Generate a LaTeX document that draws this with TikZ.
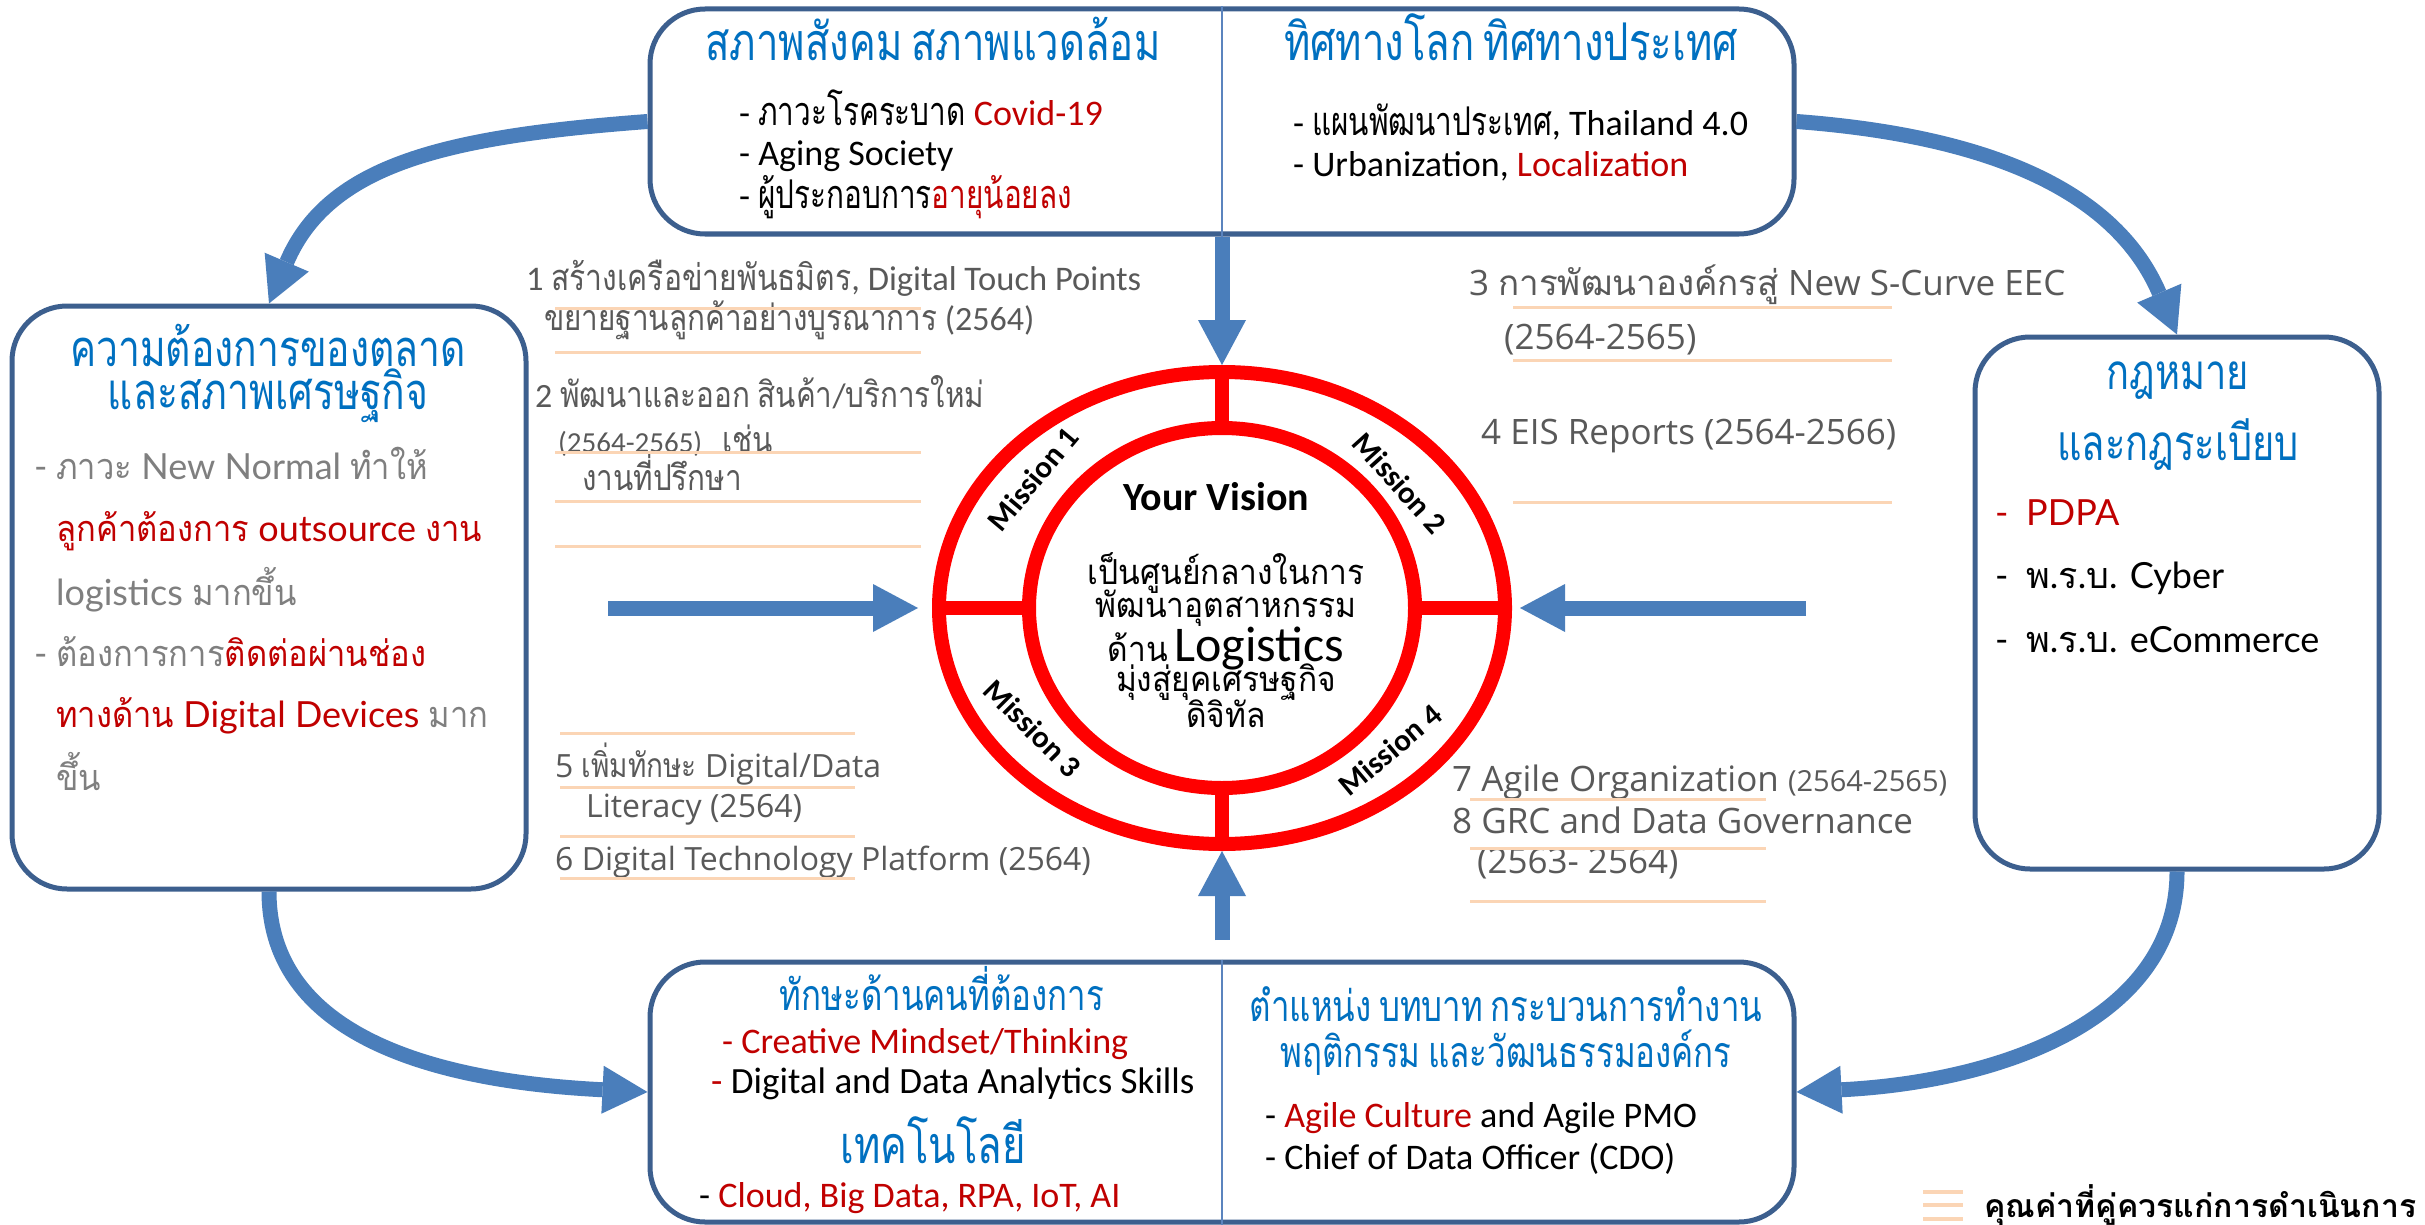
\documentclass[tikz,border=0pt]{standalone}
\usepackage{fontspec}
\usetikzlibrary{arrows.meta,shapes.geometric}
\setmainfont{Carlito}
\newfontfamily\latoF{Lato}
\newfontfamily\opensF{Open Sans}
\newfontfamily\thaiA[Script=Thai]{Loma}
\newfontfamily\thaiH[Script=Thai,Scale=1.3,FakeStretch=0.77]{Loma}
\newfontfamily\thaiN[Script=Thai,Scale=1.1,FakeStretch=0.75]{Loma}
\newfontfamily\thaiM[Script=Thai,Scale=1.05,FakeStretch=0.83]{Loma}
\newfontfamily\thaiL[Script=Thai,FakeStretch=0.91]{Loma}
\newfontfamily\thaiV[Script=Thai,Scale=1.15,FakeStretch=0.92]{Loma}
\newcommand\curthai{\thaiA}
\XeTeXinterchartokenstate=1
\newXeTeXintercharclass\thaiclass
\newcount\thc
\thc="0E00
\loop
  \XeTeXcharclass\thc=\thaiclass
  \ifnum\thc<"0E7F \advance\thc by 1
\repeat
\XeTeXinterchartoks 0 \thaiclass = {\begingroup\curthai}
\XeTeXinterchartoks 4095 \thaiclass = {\begingroup\curthai}
\XeTeXinterchartoks \thaiclass 0 = {\endgroup}
\XeTeXinterchartoks \thaiclass 4095 = {\endgroup}

\definecolor{headc}{HTML}{0070C0}
\definecolor{redc}{HTML}{C00000}
\definecolor{grayA}{HTML}{595959}
\definecolor{grayB}{HTML}{7F7F7F}
\definecolor{boxc}{HTML}{3C5F8E}
\definecolor{divc}{HTML}{5B84BE}
\definecolor{arrc}{HTML}{4A7EBB}
\definecolor{ringc}{HTML}{FF0000}
\definecolor{linec}{HTML}{FBD5B5}
\newcommand\redt[1]{\textcolor{redc}{#1}}

\tikzset{
  bx/.style={draw=boxc, line width=5pt, rounded corners=55pt, fill=white, inner sep=0pt},
  divline/.style={draw=divc, line width=2pt},
  ring/.style={ellipse, draw=ringc, line width=14pt, inner sep=0pt},
  ringbar/.style={draw=ringc, line width=14pt},
  arr/.style={draw=arrc, line width=15pt, -{Triangle[width=48pt,length=45pt,line width=0pt]}},
  oline/.style={draw=linec, line width=3pt},
  tw/.style={inner sep=0pt, anchor=base west},
  tc/.style={inner sep=0pt, anchor=base},
  toph/.style={tc, text=headc, font=\def\curthai{\thaiH}\fontsize{40}{40}\selectfont},
  topb/.style={tw, text=black, font=\def\curthai{\thaiN}\fontsize{36}{36}\selectfont},
  midA/.style={tw, text=grayA, font=\def\curthai{\thaiM}\fontsize{34}{34}\selectfont},
  midB/.style={tw, text=grayA, font=\def\curthai{\thaiM}\opensF\fontsize{32}{32}\selectfont},
  midR/.style={tw, text=grayA, font=\def\curthai{\thaiA}\opensF\fontsize{35}{35}\selectfont},
  sidh/.style={tc, text=headc, font=\def\curthai{\thaiH}\fontsize{38}{38}\selectfont},
  leftt/.style={tw, text=grayB, font=\def\curthai{\thaiL}\latoF\fontsize{36}{36}\selectfont},
  rightt/.style={tw, text=black, font=\def\curthai{\thaiA}\latoF\fontsize{36}{36}\selectfont},
  both/.style={tc, text=headc, font=\def\curthai{\thaiH}\fontsize{33}{33}\selectfont},
  botb/.style={tw, text=black, font=\def\curthai{\thaiN}\fontsize{36}{36}\selectfont},
  vis/.style={tc, text=black, font=\def\curthai{\thaiV}\fontsize{30}{30}\selectfont},
  mis/.style={inner sep=0pt, text=black, font=\bfseries\fontsize{31}{31}\selectfont},
  legt/.style={tw, text=black, font=\def\curthai{\thaiA}\bfseries\fontsize{32}{32}\selectfont},
}

\begin{document}
\begin{tikzpicture}[x=1pt,y=-1pt]
\useasboundingbox (0,0) rectangle (2425,1225);
\fill[white] (0,0) rectangle (2425,1225);

% ---------- boxes ----------
\node[bx, minimum width=1144pt, minimum height=225pt] (topbox) at (1222,121.5) {};
\node[bx, minimum width=514pt, minimum height=583pt] (leftbox) at (269,597.5) {};
\node[bx, minimum width=404pt, minimum height=532pt] (rightbox) at (2177,603) {};
\node[bx, minimum width=1144pt, minimum height=260pt] (botbox) at (1222,1092) {};
\draw[divline] (topbox.north) -- (topbox.south);
\draw[divline] (botbox.north) -- (botbox.south);

% ---------- rings ----------
\node[ring, minimum width=566pt, minimum height=472pt] (outer) at (1222,608) {};
\node[ring, minimum width=386pt, minimum height=360pt] (inner) at (1222,608) {};
\draw[ringbar] (outer.north) -- (inner.north);
\draw[ringbar] (outer.south) -- (inner.south);
\draw[ringbar] (outer.west) -- (inner.west);
\draw[ringbar] (outer.east) -- (inner.east);

% ---------- arrows ----------
\coordinate (la) at (608,608);
\coordinate (ra) at (1806,608);
\coordinate (ba) at (1222,940);
\draw[arr] (topbox.south) -- (outer.north);
\draw[arr] (ba) -- (outer.south);
\draw[arr] (la) -- ([xshift=-14pt]outer.west);
\draw[arr] (ra) -- ([xshift=8pt]outer.east);
\draw[arr] (topbox.west) .. controls +(-200,15) and +(60,-140) .. (leftbox.north);
\draw[arr] (topbox.east) .. controls +(200,15) and +(-60,-140) .. (rightbox.north);
\draw[arr] (leftbox.south) .. controls +(0,150) and +(-200,-10) .. (botbox.west);
\draw[arr] (rightbox.south) .. controls +(0,150) and +(200,-10) .. (botbox.east);

% ---------- top box text ----------
\node[toph] (th1) at (933,61) {สภาพสังคม สภาพแวดล้อม};
\node[toph] (th2) at (1511,61) {ทิศทางโลก ทิศทางประเทศ};
\node[topb] (tb1) at (739,126) {- ภาวะโรคระบาด \redt{Covid-19}};
\node[topb] (tb2) at (739,166) {- Aging Society};
\node[topb] (tb3) at (739,208) {- ผู้ประกอบการ\redt{อายุน้อยลง}};
\node[topb] (tb4) at (1293,136) {- แผนพัฒนาประเทศ, Thailand 4.0};
\node[topb] (tb5) at (1293,177) {- Urbanization, \redt{Localization}};

% ---------- middle left items ----------
\node[midA, font=\def\curthai{\thaiM}\fontsize{34.5}{34.5}\selectfont] (m1a) at (526,290) {1 สร้างเครือข่ายพันธมิตร, Digital Touch Points};
\node[midA] (m1b) at (544,330) {ขยายฐานลูกค้าอย่างบูรณาการ (2564)};
\node[midA] (m2a) at (535,407) {2 พัฒนาและออก สินค้า/บริการใหม่};
\node[midA] (m2b) at (558,452) {{\fontsize{29}{29}\selectfont (2564-2565)}\hspace{20pt}เช่น};
\node[midA] (m2c) at (582,490) {งานที่ปรึกษา};
\foreach \yy in {308,352,452,501,546} \draw[oline] (555,\yy) -- (921,\yy);

\node[midB] (m5a) at (555,777) {5 เพิ่มทักษะ Digital/Data};
\node[midB] (m5b) at (586,817) {Literacy (2564)};
\node[midB] (m6) at (555,870) {6 Digital Technology Platform (2564)};
\foreach \yy in {733,787,836,878} \draw[oline] (560,\yy) -- (855,\yy);

% ---------- middle right items ----------
\node[midR] (m3a) at (1469,295) {3 การพัฒนาองค์กรสู่ New S-Curve EEC};
\node[midR] (m3b) at (1504,349) {(2564-2565)};
\node[midR] (m4) at (1481,444) {4 EIS Reports (2564-2566)};
\foreach \yy in {307,360,502} \draw[oline] (1513,\yy) -- (1892,\yy);

\node[midR] (m7) at (1452,791) {7 Agile Organization {\fontsize{29}{29}\selectfont (2564-2565)}};
\node[midR] (m8a) at (1452,833) {8 GRC and Data Governance};
\node[midR] (m8b) at (1477,873) {(2563- 2564)};
\foreach \yy in {799,848,901} \draw[oline] (1470,\yy) -- (1766,\yy);

% ---------- left box ----------
\node[sidh, font=\def\curthai{\thaiH}\fontsize{39}{39}\selectfont] (lh1) at (268,366) {ความต้องการของตลาด};
\node[sidh, font=\def\curthai{\thaiH}\fontsize{39}{39}\selectfont] (lh2) at (268,409) {และสภาพเศรษฐกิจ};
\node[leftt] (l1) at (34,479) {\makebox[22pt][l]{-}ภาวะ New Normal ทำให้};
\node[leftt] (l2) at (56,541) {\redt{ลูกค้าต้องการ outsource งาน}};
\node[leftt] (l3) at (56,605) {logistics มากขึ้น};
\node[leftt] (l4) at (34,666) {\makebox[22pt][l]{-}ต้องการการ\redt{ติดต่อผ่านช่อง}};
\node[leftt] (l5) at (56,727) {\redt{ทางด้าน Digital Devices} มาก};
\node[leftt] (l6) at (56,790) {ขึ้น};

% ---------- right box ----------
\node[sidh] (rh1) at (2178,389) {กฎหมาย};
\node[sidh] (rh2) at (2178,460) {และกฎระเบียบ};
\node[rightt, text=redc] (r1) at (1995,525) {\makebox[31pt][l]{-}PDPA};
\node[rightt] (r2) at (1995,588) {\makebox[31pt][l]{-}พ.ร.บ. Cyber};
\node[rightt] (r3) at (1995,652) {\makebox[31pt][l]{-}พ.ร.บ. eCommerce};

% ---------- bottom box ----------
\node[both] (bh1) at (942,1010) {ทักษะด้านคนที่ต้องการ};
\node[botb, text=redc] (b1) at (722,1053) {- Creative Mindset/Thinking};
\node[botb, font=\fontsize{37}{37}\selectfont] (b2) at (711,1093) {\redt{-} Digital and Data Analytics Skills};
\node[tc, text=headc, font=\def\curthai{\thaiH}\fontsize{40}{40}\selectfont] (bh2) at (933,1163) {เทคโนโลยี};
\node[botb] (b3) at (699,1207) {- \redt{Cloud, Big Data, RPA, IoT, AI}};
\node[both] (bh3) at (1506,1021) {ตำแหน่ง บทบาท กระบวนการทำงาน};
\node[both] (bh4) at (1506,1067) {พฤติกรรม และวัฒนธรรมองค์กร};
\node[botb] (b4) at (1265,1127) {- \redt{Agile Culture} and Agile PMO};
\node[botb] (b5) at (1265,1169) {- Chief of Data Officer (CDO)};

% ---------- vision ----------
\node[tc, text=black, font=\bfseries\fontsize{40}{40}\selectfont] (yv) at (1216,510) {Your Vision};
\node[vis] (v1) at (1226,584) {เป็นศูนย์กลางในการ};
\node[vis] (v2) at (1226,617) {พัฒนาอุตสาหกรรม};
\node[vis] (v3) at (1226,661) {ด้าน {\fontsize{50}{50}\selectfont Logistics}};
\node[vis] (v4) at (1226,691) {มุ่งสู่ยุคเศรษฐกิจ};
\node[vis] (v5) at (1226,727) {ดิจิทัล};
\node[mis, rotate=50] (ms1) at (1033,479) {Mission 1};
\node[mis, rotate=-48] (ms2) at (1400,483) {Mission 2};
\node[mis, rotate=-45] (ms3) at (1033,728) {Mission 3};
\node[mis, rotate=40] (ms4) at (1390,750) {Mission 4};

% ---------- legend ----------
\foreach \yy in {1192,1205,1219} \draw[draw=linec, line width=4pt] (1923,\yy) -- (1963,\yy);
\node[legt] (leg) at (1984,1217) {คุณค่าที่คู่ควรแก่การดำเนินการ};
\end{tikzpicture}
\end{document}
